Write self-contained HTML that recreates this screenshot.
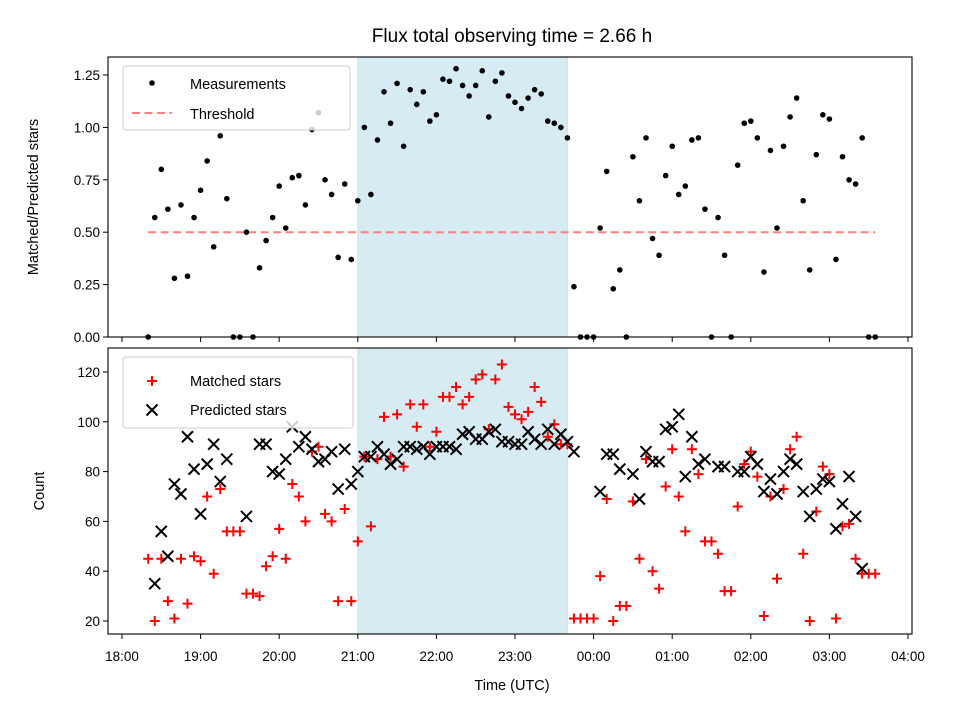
<!DOCTYPE html>
<html><head><meta charset="utf-8"><style>
body{margin:0;background:#fff}
svg{font-family:"Liberation Sans","DejaVu Sans",sans-serif}
</style></head><body>
<svg id="c" width="960" height="720" viewBox="0 0 960 720" xmlns="http://www.w3.org/2000/svg"></svg>
<script>
// data: 5-minute cadence starting 18:20 UTC
const startMinutes = 20;
const stepMinutes = 5;
const ratioValues = [0,0.57,0.80,0.61,0.28,0.63,0.29,0.57,0.70,0.84,0.43,0.96,0.66,0,0,0.50,0,0.33,0.46,0.57,0.72,0.52,0.76,0.77,0.63,0.99,1.07,0.75,0.68,0.38,0.73,0.37,0.65,1.00,0.68,0.94,1.17,1.02,1.21,0.91,1.18,1.11,1.17,1.03,1.06,1.23,1.22,1.28,1.20,1.15,1.20,1.27,1.05,1.22,1.26,1.15,1.12,1.09,1.14,1.18,1.16,1.03,1.02,1.00,0.95,0.24,0,0,0,0.52,0.79,0.23,0.32,0,0.86,0.65,0.95,0.47,0.39,0.77,0.91,0.68,0.72,0.94,0.95,0.61,0,0.57,0.39,0,0.82,1.02,1.03,0.95,0.31,0.89,0.52,0.91,1.05,1.14,0.65,0.32,0.87,1.06,1.04,0.37,0.86,0.75,0.73,0.95,0,0];
const matchedValues = [45,20,45,28,21,45,27,46,44,70,39,73,56,56,56,31,31,30,42,46,57,45,75,70,60,88,90,63,60,28,65,28,52,86,58,85,102,86,103,82,107,98,107,90,96,110,110,114,107,110,117,119,97,117,123,106,103,101,104,114,108,94,99,91,91,21,21,21,21,38,69,20,26,26,68,45,85,40,33,74,89,70,56,89,79,52,52,47,32,32,66,83,88,78,22,70,37,73,89,94,47,20,64,82,79,21,58,59,45,39,39,39];
const predictedValues = [null,35,56,46,75,71,94,81,63,83,91,76,85,null,null,62,null,91,91,80,79,85,98,90,94,89,84,85,88,73,89,75,80,86,86,90,87,83,85,90,90,89,90,87,90,90,90,89,95,96,93,93,96,97,92,92,91,91,96,93,91,97,91,95,92,88,null,null,null,72,87,87,81,null,79,69,88,84,84,97,98,103,78,94,83,85,null,82,82,null,80,80,86,83,72,77,71,80,85,83,72,62,73,77,76,57,67,78,62,41,null,null];
const threshold = 0.5;
const topTicks = [0,0.25,0.5,0.75,1.0,1.25];
const topTickLabels = ["0.00","0.25","0.50","0.75","1.00","1.25"];
const botTicks = [20,40,60,80,100,120];
const xTickHours = [0,1,2,3,4,5,6,7,8,9,10];
const xTickLabels = ["18:00","19:00","20:00","21:00","22:00","23:00","00:00","01:00","02:00","03:00","04:00"];
const shadeStartHour = 3;
const shadeEndHour = 5 + 40/60;

const NS="http://www.w3.org/2000/svg";
const svg=document.getElementById('c');
function mk(tag,attrs,parent){const e=document.createElementNS(NS,tag);for(const k in attrs)e.setAttribute(k,attrs[k]);(parent||svg).appendChild(e);return e;}
const L=108,R=912;
const xS=h=>122+78.6*h;
const yTop=v=>337-209.6*v;
const yBot=v=>621-2.49*(v-20);
const hourOf=i=>(startMinutes+stepMinutes*i)/60;

// title
let t=mk('text',{x:512,y:42,'text-anchor':'middle','font-size':'19'});t.textContent='Flux total observing time = 2.66 h';



function panel(top,bottom,name){
  const g=mk('g',{});
  
  
  const r=mk('rect',{x:xS(shadeStartHour),y:top,width:xS(shadeEndHour)-xS(shadeStartHour),height:bottom-top,fill:'#add8e6','fill-opacity':0.5,stroke:'#add8e6','stroke-opacity':0.6},g);
  
  
  return g;
}
function frame(g,top,bottom){
  mk('rect',{x:L,y:top,width:R-L,height:bottom-top,fill:'none',stroke:'#000','stroke-width':1.1},g);
  xTickHours.forEach(h=>mk('line',{x1:xS(h),x2:xS(h),y1:bottom,y2:bottom+5,stroke:'#000','stroke-width':1},g));
}

// TOP PANEL
const gt=panel(57,337,'ratio-panel');
const th=mk('line',{x1:xS(hourOf(0)),x2:xS(hourOf(ratioValues.length-1)),y1:yTop(threshold),y2:yTop(threshold),stroke:'#ff7f7f','stroke-width':2,'stroke-dasharray':'8,4.5'},gt);


ratioValues.forEach((v,i)=>{
  const c=mk('circle',{cx:xS(hourOf(i)),cy:yTop(v),r:2.8,fill:'#000'},gt);
  
  
});
// clip cover below axis for zero points (half circles visible like matplotlib - keep)
frame(gt,57,337);
topTicks.forEach((v,i)=>{
  mk('line',{x1:L-5,x2:L,y1:yTop(v),y2:yTop(v),stroke:'#000'},gt);
  const tx=mk('text',{x:L-8,y:yTop(v)+5,'text-anchor':'end','font-size':'13.5'},gt);tx.textContent=topTickLabels[i];
});
let yl=mk('text',{transform:'translate(38,197) rotate(-90)','text-anchor':'middle','font-size':'14.5'});yl.textContent='Matched/Predicted stars';



// top legend
const lg1=mk('g',{});


mk('rect',{x:123,y:66,width:227,height:64,rx:3,fill:'#fff','fill-opacity':0.8,stroke:'#ccc'},lg1);
mk('circle',{cx:152,cy:83,r:2.8,fill:'#000'},lg1);
let l1=mk('text',{x:190,y:89,'font-size':'14.5'},lg1);l1.textContent='Measurements';
mk('line',{x1:132,x2:172,y1:113,y2:113,stroke:'#ff7f7f','stroke-width':2,'stroke-dasharray':'8,4.5'},lg1);
let l2=mk('text',{x:190,y:119,'font-size':'14.5'},lg1);l2.textContent='Threshold';

// BOTTOM PANEL
const gb=panel(348,634,'count-panel');
matchedValues.forEach((v,i)=>{
  if(v==null)return;
  const x=xS(hourOf(i)),y=yBot(v);
  const p=mk('path',{d:`M${x-5},${y}H${x+5}M${x},${y-5}V${y+5}`,stroke:'#f00','stroke-width':2},gb);
  
  
});
predictedValues.forEach((v,i)=>{
  if(v==null)return;
  const x=xS(hourOf(i)),y=yBot(v);
  const p=mk('path',{d:`M${x-5.5},${y-5.5}L${x+5.5},${y+5.5}M${x-5.5},${y+5.5}L${x+5.5},${y-5.5}`,stroke:'#000','stroke-width':2},gb);
  
  
});
frame(gb,348,634);
botTicks.forEach(v=>{
  mk('line',{x1:L-5,x2:L,y1:yBot(v),y2:yBot(v),stroke:'#000'},gb);
  const tx=mk('text',{x:L-8,y:yBot(v)+5,'text-anchor':'end','font-size':'13.5'},gb);tx.textContent=String(v);
});
xTickHours.forEach((h,i)=>{
  const tx=mk('text',{x:xS(h),y:661,'text-anchor':'middle','font-size':'13.5'},gb);tx.textContent=xTickLabels[i];
});
let yl2=mk('text',{transform:'translate(44,491) rotate(-90)','text-anchor':'middle','font-size':'14.5'});yl2.textContent='Count';


let xl=mk('text',{x:512,y:690,'text-anchor':'middle','font-size':'14.5'});xl.textContent='Time (UTC)';



// bottom legend
const lg2=mk('g',{});


mk('rect',{x:123,y:357,width:230,height:71,rx:3,fill:'#fff','fill-opacity':0.8,stroke:'#ccc'},lg2);
mk('path',{d:'M147,381H157M152,376V386',stroke:'#f00','stroke-width':2},lg2);
let l3=mk('text',{x:190,y:386,'font-size':'14.5'},lg2);l3.textContent='Matched stars';
mk('path',{d:'M146.5,404.5L157.5,415.5M146.5,415.5L157.5,404.5',stroke:'#000','stroke-width':2},lg2);
let l4=mk('text',{x:190,y:415,'font-size':'14.5'},lg2);l4.textContent='Predicted stars';
</script>
</body></html>
